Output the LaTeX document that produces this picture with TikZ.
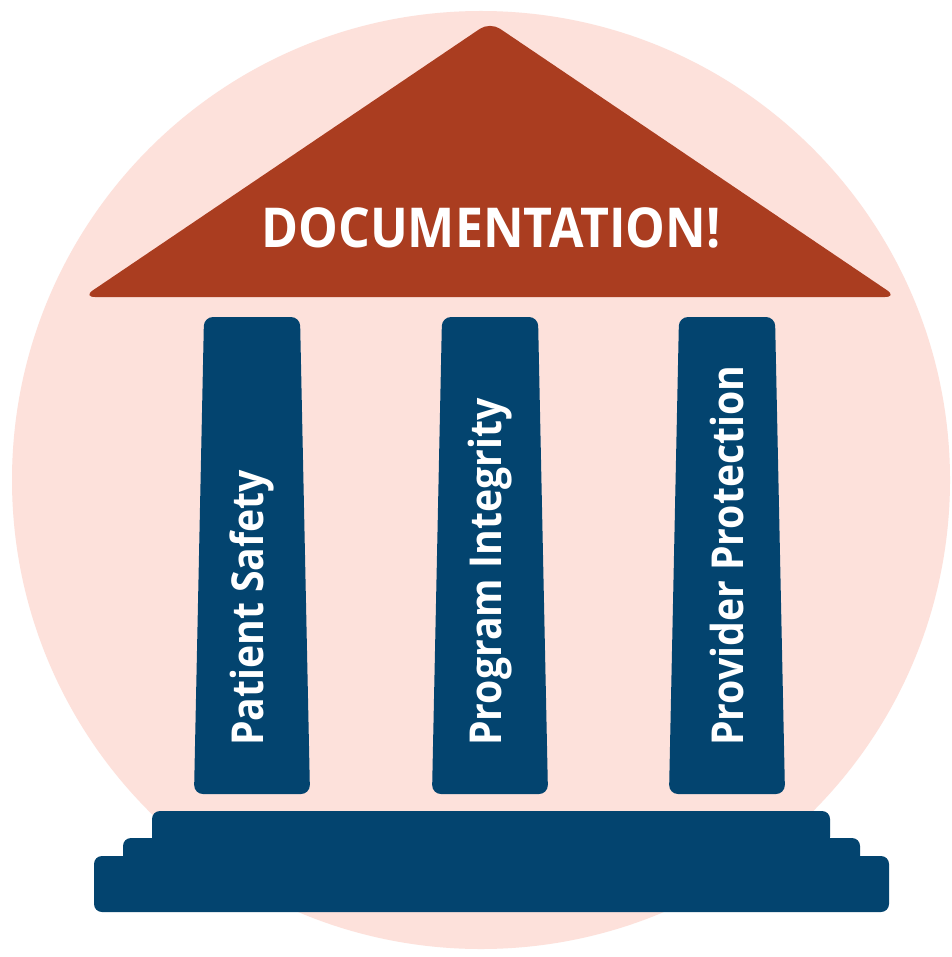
\documentclass[tikz,border=0pt]{standalone}
\usepackage{fontspec}
\setmainfont{Open Sans}
\definecolor{roofred}{HTML}{AA3D20}
\definecolor{pillarblue}{HTML}{03446F}
\definecolor{bgpink}{HTML}{FDE1DB}
\begin{document}
\begin{tikzpicture}[x=1pt,y=-1pt,
    pillar/.style={fill=pillarblue,rounded corners=9pt},
    pillartext/.style={rotate=90,anchor=west,text=white,font=\bfseries\fontsize{44}{44}\selectfont,inner sep=0pt}]
    \useasboundingbox[fill=white] (0,0) rectangle (951,957);
    % Background circle
    \fill[bgpink] (481,480) circle (469);
    % Roof
    \fill[roofred,rounded corners=12pt] (490,22) -- (897,297) -- (83,297) -- cycle;
    \node[text=white,font=\bfseries\fontsize{55}{55}\selectfont] (roof) at (491,228) {\scalebox{0.91}[1]{DOCUMENTATION!}};
    % Pillars
    \foreach \x/\name/\txt in {252/safety/Patient Safety,490/integrity/Program Integrity,727/protection/Provider Protection} {
        \fill[pillar] (\x-48,317) -- (\x+48,317) -- (\x+58,794) -- (\x-58,794) -- cycle;
        \node[pillartext] (\name) at (\x,746) {\scalebox{0.89}[1]{\txt}};
    }
    % Steps
    \fill[pillarblue,rounded corners=8pt] (152,811) rectangle (830,845);
    \fill[pillarblue,rounded corners=8pt] (123,838) rectangle (860,870);
    \fill[pillarblue,rounded corners=8pt] (94,856) rectangle (889,912);
\end{tikzpicture}
\end{document}
